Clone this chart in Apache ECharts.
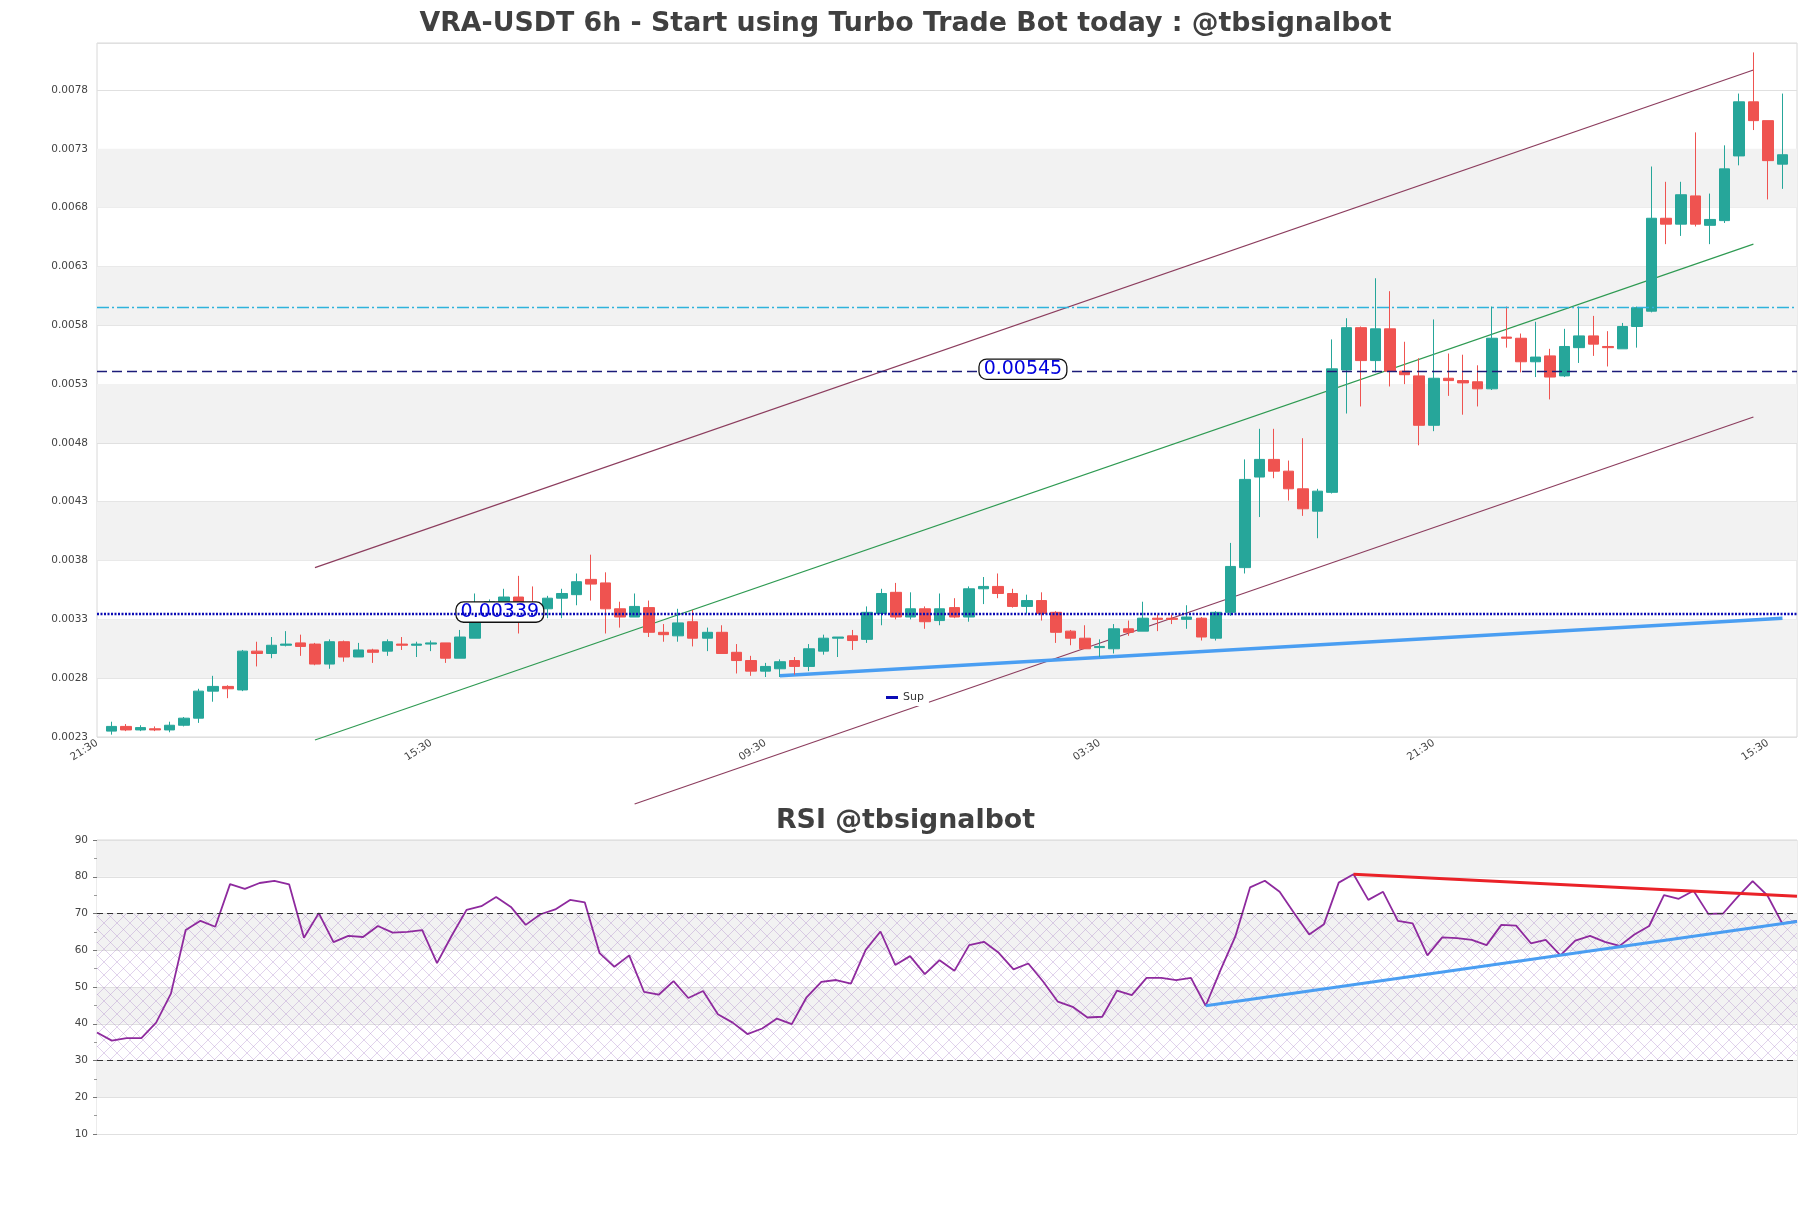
<!DOCTYPE html>
<html>
<head>
<meta charset="utf-8">
<title>VRA-USDT 6h</title>
<script src="https://cdn.jsdelivr.net/npm/echarts@6/dist/echarts.min.js"></script>
<style>
html, body { margin: 0; padding: 0; background: #fff; }
#main { width: 1811px; height: 1208px; }
</style>
</head>
<body>
<div id="main"></div>
<script>
// 6h candles, each row: [open, close, low, high]
var candles = [
  [0.00235, 0.00239, 0.00232, 0.00243], [0.00239, 0.00236, 0.00235, 0.00241], [0.00236, 0.00238, 0.00235, 0.00240],
  [0.00237, 0.00236, 0.00235, 0.00239], [0.00236, 0.00240, 0.00234, 0.00243], [0.00240, 0.00246, 0.00239, 0.00247],
  [0.00246, 0.00269, 0.00242, 0.00271], [0.00269, 0.00273, 0.00260, 0.00282], [0.00273, 0.00271, 0.00263, 0.00274],
  [0.00270, 0.00303, 0.00269, 0.00304], [0.00303, 0.00301, 0.00290, 0.00311], [0.00301, 0.00308, 0.00297, 0.00315],
  [0.00308, 0.00309, 0.00307, 0.00320], [0.00310, 0.00307, 0.00299, 0.00317], [0.00309, 0.00292, 0.00291, 0.00310],
  [0.00292, 0.00311, 0.00288, 0.00313], [0.00311, 0.00298, 0.00294, 0.00312], [0.00298, 0.00304, 0.00298, 0.00310],
  [0.00304, 0.00302, 0.00293, 0.00305], [0.00303, 0.00311, 0.00299, 0.00313], [0.00309, 0.00308, 0.00304, 0.00315],
  [0.00308, 0.00309, 0.00298, 0.00311], [0.00309, 0.00310, 0.00303, 0.00312], [0.00310, 0.00297, 0.00293, 0.00310],
  [0.00297, 0.00315, 0.00297, 0.00321], [0.00314, 0.00329, 0.00314, 0.00352], [0.00329, 0.00345, 0.00327, 0.00347],
  [0.00345, 0.00349, 0.00343, 0.00356], [0.00349, 0.00342, 0.00318, 0.00367], [0.00342, 0.00340, 0.00336, 0.00358],
  [0.00339, 0.00348, 0.00331, 0.00350], [0.00348, 0.00352, 0.00331, 0.00356], [0.00351, 0.00362, 0.00342, 0.00369],
  [0.00364, 0.00360, 0.00346, 0.00385], [0.00361, 0.00339, 0.00318, 0.00370], [0.00339, 0.00332, 0.00323, 0.00345],
  [0.00332, 0.00341, 0.00332, 0.00352], [0.00340, 0.00319, 0.00315, 0.00346], [0.00319, 0.00317, 0.00311, 0.00326],
  [0.00316, 0.00327, 0.00311, 0.00339], [0.00328, 0.00314, 0.00307, 0.00338], [0.00314, 0.00319, 0.00303, 0.00323],
  [0.00319, 0.00301, 0.00301, 0.00325], [0.00302, 0.00295, 0.00284, 0.00309], [0.00295, 0.00286, 0.00282, 0.00299],
  [0.00286, 0.00290, 0.00281, 0.00293], [0.00288, 0.00294, 0.00281, 0.00296], [0.00295, 0.00290, 0.00283, 0.00298],
  [0.00290, 0.00305, 0.00286, 0.00309], [0.00303, 0.00314, 0.00300, 0.00317], [0.00314, 0.00315, 0.00298, 0.00315],
  [0.00316, 0.00312, 0.00304, 0.00321], [0.00313, 0.00336, 0.00310, 0.00341], [0.00335, 0.00352, 0.00325, 0.00356],
  [0.00353, 0.00332, 0.00330, 0.00361], [0.00332, 0.00339, 0.00330, 0.00353], [0.00339, 0.00328, 0.00322, 0.00341],
  [0.00329, 0.00339, 0.00325, 0.00352], [0.00340, 0.00332, 0.00331, 0.00348], [0.00332, 0.00356, 0.00328, 0.00358],
  [0.00356, 0.00358, 0.00343, 0.00366], [0.00358, 0.00352, 0.00348, 0.00369], [0.00352, 0.00341, 0.00340, 0.00356],
  [0.00341, 0.00346, 0.00335, 0.00351], [0.00346, 0.00335, 0.00329, 0.00353], [0.00336, 0.00319, 0.00310, 0.00337],
  [0.00320, 0.00314, 0.00308, 0.00321], [0.00314, 0.00305, 0.00305, 0.00325], [0.00306, 0.00307, 0.00298, 0.00313],
  [0.00305, 0.00322, 0.00301, 0.00326], [0.00322, 0.00319, 0.00316, 0.00329], [0.00320, 0.00331, 0.00320, 0.00345],
  [0.00331, 0.00330, 0.00320, 0.00334], [0.00331, 0.00330, 0.00326, 0.00334], [0.00330, 0.00332, 0.00322, 0.00342],
  [0.00331, 0.00315, 0.00312, 0.00332], [0.00314, 0.00336, 0.00312, 0.00337], [0.00336, 0.00375, 0.00333, 0.00395],
  [0.00374, 0.00449, 0.00369, 0.00466], [0.00451, 0.00466, 0.00417, 0.00492], [0.00466, 0.00456, 0.00450, 0.00492],
  [0.00456, 0.00441, 0.00431, 0.00465], [0.00441, 0.00424, 0.00418, 0.00484], [0.00422, 0.00439, 0.00399, 0.00441],
  [0.00438, 0.00543, 0.00437, 0.00568], [0.00542, 0.00578, 0.00505, 0.00586], [0.00578, 0.00550, 0.00511, 0.00579],
  [0.00550, 0.00577, 0.00540, 0.00620], [0.00577, 0.00541, 0.00528, 0.00609], [0.00541, 0.00538, 0.00530, 0.00566],
  [0.00537, 0.00495, 0.00478, 0.00552], [0.00495, 0.00535, 0.00490, 0.00585], [0.00535, 0.00533, 0.00520, 0.00556],
  [0.00533, 0.00531, 0.00504, 0.00555], [0.00532, 0.00526, 0.00511, 0.00546], [0.00526, 0.00569, 0.00525, 0.00596],
  [0.00570, 0.00569, 0.00561, 0.00596], [0.00569, 0.00549, 0.00540, 0.00573], [0.00549, 0.00553, 0.00536, 0.00583],
  [0.00554, 0.00536, 0.00517, 0.00560], [0.00537, 0.00562, 0.00536, 0.00577], [0.00561, 0.00571, 0.00548, 0.00596],
  [0.00571, 0.00564, 0.00554, 0.00588], [0.00562, 0.00561, 0.00545, 0.00575], [0.00560, 0.00579, 0.00560, 0.00582],
  [0.00579, 0.00595, 0.00561, 0.00596], [0.00592, 0.00671, 0.00591, 0.00715], [0.00671, 0.00666, 0.00649, 0.00702],
  [0.00666, 0.00691, 0.00656, 0.00702], [0.00690, 0.00666, 0.00664, 0.00744], [0.00665, 0.00670, 0.00649, 0.00692],
  [0.00669, 0.00713, 0.00667, 0.00733], [0.00724, 0.00770, 0.00716, 0.00777], [0.00770, 0.00754, 0.00746, 0.00812],
  [0.00754, 0.00720, 0.00687, 0.00754], [0.00717, 0.00725, 0.00696, 0.00777]
];

var rsiValues = [
  37.6, 35.4, 36.1, 36.1, 40.3, 48.2, 65.5, 68.0, 66.4, 78.0,
  76.7, 78.3, 78.9, 77.9, 63.4, 70.1, 62.2, 63.9, 63.6, 66.6,
  64.8, 65.0, 65.5, 56.5, 64.0, 71.0, 72.0, 74.5, 71.8, 66.9,
  69.8, 71.1, 73.7, 73.0, 59.2, 55.5, 58.6, 48.7, 47.9, 51.6,
  47.0, 48.9, 42.6, 40.3, 37.2, 38.7, 41.4, 39.9, 47.2, 51.4,
  51.9, 50.9, 60.1, 65.1, 56.0, 58.4, 53.5, 57.3, 54.4, 61.4,
  62.3, 59.3, 54.8, 56.4, 51.5, 46.0, 44.6, 41.7, 41.9, 49.0,
  47.8, 52.5, 52.5, 51.9, 52.5, 44.9, 54.6, 63.7, 77.1, 78.9,
  75.9, 70.0, 64.3, 67.1, 78.4, 80.7, 73.7, 75.9, 68.0, 67.3,
  58.6, 63.5, 63.3, 62.8, 61.4, 66.9, 66.7, 61.9, 62.8, 58.6,
  62.6, 63.9, 62.3, 61.2, 64.3, 66.6, 75.0, 74.0, 76.2, 69.9,
  70.0, 74.6, 78.8, 74.9, 67.3, 68.0
];

var xTickLabels = ['21:30', '15:30', '09:30', '03:30', '21:30', '15:30'];
var xTickStep = 23;

// price levels and their tags
var supLevel = 0.003345;
var pivotLevel = 0.00541;
var resistLevel = 0.00595;
var levelTags = ['0.00339', '0.00545'];

// price channel / trend lines: [candle slot, price]
var upperChannel = [[15, 0.00374], [114, 0.00797]];
var midChannel = [[15, 0.002274], [114, 0.00649]];
var lowerChannel = [[37, 0.00173], [114, 0.00502]];
var supportTrend = [[47, 0.00282], [116, 0.00331]];

// RSI trend lines: [rsi index, value]
var rsiDownTrend = [[85, 80.7], [115, 74.7]];
var rsiUpTrend = [[75, 44.9], [115, 67.8]];

var priceBands = [[0.0028, 0.0033], [0.0038, 0.0043], [0.0048, 0.0053], [0.0058, 0.0063], [0.0068, 0.0073]];

var FONT = 'DejaVu Sans';
var chart = echarts.init(document.getElementById('main'));

var candleCats = [];
for (var i = 0; i < candles.length + 2; i++) candleCats.push(String(i));
var candleData = ['-'].concat(candles, ['-']);
var rsiCats = [];
for (var j = 0; j < rsiValues.length; j++) rsiCats.push(String(j));

// cross hatch for the rsi 30-70 zone
var hatch = document.createElement('canvas');
hatch.width = 13; hatch.height = 13;
var g = hatch.getContext('2d');
g.strokeStyle = 'rgba(170,130,200,0.5)';
g.lineWidth = 0.7;
g.beginPath();
g.moveTo(0, 0); g.lineTo(13, 13);
g.moveTo(13, 0); g.lineTo(0, 13);
g.stroke();

function trend(name, data, color, width, axisIdx) {
  return {
    name: name, type: 'line', data: data,
    xAxisIndex: axisIdx, yAxisIndex: axisIdx,
    symbol: 'none', clip: false, silent: true,
    lineStyle: { color: color, width: width },
    z: 3
  };
}

var option = {
  animation: false,
  backgroundColor: '#fff',
  title: [
    { text: 'VRA-USDT 6h - Start using Turbo Trade Bot today : @tbsignalbot', left: 'center', top: 9, padding: 0,
      textStyle: { fontFamily: FONT, fontSize: 26.8, fontWeight: 'bold', color: '#404040', lineHeight: 30 } },
    { text: 'RSI @tbsignalbot', left: 'center', top: 806, padding: 0,
      textStyle: { fontFamily: FONT, fontSize: 26.8, fontWeight: 'bold', color: '#404040', lineHeight: 30 } }
  ],
  legend: {
    data: [{ name: 'Sup', icon: 'rect' }],
    left: 881, top: 689,
    itemWidth: 12, itemHeight: 3, padding: [3, 5],
    backgroundColor: '#fff',
    textStyle: { fontFamily: FONT, fontSize: 11, color: '#333' }
  },
  grid: [
    { left: 97, right: 14, top: 43, height: 694, show: true, borderColor: '#d8d8d8', borderWidth: 1, backgroundColor: '#fff' },
    { left: 97, right: 14, top: 840, height: 294, show: true, borderColor: '#d8d8d8', borderWidth: 1, backgroundColor: '#fff' }
  ],
  xAxis: [
    { type: 'category', gridIndex: 0, data: candleCats, boundaryGap: false,
      axisLine: { show: false }, axisTick: { show: false }, splitLine: { show: false },
      axisLabel: { interval: xTickStep - 1, rotate: 33, margin: 5, fontFamily: FONT, fontSize: 10.5, color: '#444',
        formatter: function (v, idx) { return xTickLabels[idx / xTickStep] || ''; } } },
    { type: 'category', gridIndex: 1, data: rsiCats, boundaryGap: false,
      axisLine: { show: false }, axisTick: { show: false }, axisLabel: { show: false }, splitLine: { show: false } }
  ],
  yAxis: [
    { type: 'value', gridIndex: 0, min: 0.0023, max: 0.0082, interval: 0.0005,
      axisLine: { show: false }, axisTick: { show: false },
      splitLine: { lineStyle: { color: '#e0e0e0' } },
      axisLabel: { showMaxLabel: false, margin: 9, fontFamily: FONT, fontSize: 10.5, color: '#444',
        formatter: function (v) { return v.toFixed(4); } } },
    { type: 'value', gridIndex: 1, min: 10, max: 90, interval: 10,
      axisLine: { show: false },
      axisTick: { show: true, length: 4, lineStyle: { color: '#777' } },
      minorTick: { show: true, splitNumber: 2, length: 3, lineStyle: { color: '#999' } },
      splitLine: { lineStyle: { color: '#e0e0e0' } },
      splitArea: { show: true, areaStyle: { color: ['#ffffff', '#f2f2f2'] } },
      axisLabel: { margin: 9, fontFamily: FONT, fontSize: 10.5, color: '#444' } }
  ],
  series: [
    {
      name: 'VRA', type: 'candlestick', data: candleData,
      xAxisIndex: 0, yAxisIndex: 0, barWidth: 11, z: 4,
      itemStyle: { color: '#26a69a', color0: '#ef5350', borderColor: '#26a69a', borderColor0: '#ef5350', borderWidth: 1 },
      markArea: {
        silent: true, itemStyle: { color: '#f2f2f2' },
        data: priceBands.map(function (b) { return [{ yAxis: b[0] }, { yAxis: b[1] }]; })
      }
    },
    {
      name: 'Sup', type: 'line', xAxisIndex: 0, yAxisIndex: 0,
      data: [[0, supLevel], [candleCats.length - 1, supLevel]],
      symbol: 'none', silent: true, z: 5,
      itemStyle: { color: '#0b0bb5' },
      lineStyle: { color: '#0b0bb5', width: 2.5, type: [2, 1.5] },
      markLine: {
        silent: true, symbol: ['none', 'none'], label: { show: false },
        data: [
          [{ coord: [0, resistLevel] }, { coord: [candleCats.length - 1, resistLevel],
            lineStyle: { color: '#2fb3dc', width: 1.3, type: [12, 3, 2, 3] } }],
          [{ coord: [0, pivotLevel] }, { coord: [candleCats.length - 1, pivotLevel],
            lineStyle: { color: '#1c1c7a', width: 1.3, type: [10, 5] } }]
        ]
      },
      markPoint: {
        symbol: 'rect', symbolSize: 1, itemStyle: { color: 'rgba(0,0,0,0)' }, silent: true,
        label: { show: true, position: 'inside', formatter: '{b}', offset: [-4, -2],
          fontFamily: FONT, fontSize: 19, lineHeight: 19, color: '#0000dd',
          backgroundColor: '#fff', borderColor: '#111', borderWidth: 1.3, borderRadius: 7, padding: [0, 4, 0, 4] },
        data: [
          { name: levelTags[0], coord: [28, supLevel] },
          { name: levelTags[1], coord: [64, pivotLevel] }
        ]
      }
    },
    trend('upper', upperChannel, '#8c3d5e', 1.2, 0),
    trend('mid', midChannel, '#2e9a52', 1.1, 0),
    trend('lower', lowerChannel, '#8c3d5e', 1.2, 0),
    trend('support', supportTrend, '#4a9ef2', 3.5, 0),
    {
      name: 'RSI', type: 'line', data: rsiValues,
      xAxisIndex: 1, yAxisIndex: 1, symbol: 'none', silent: true, z: 3,
      lineStyle: { color: '#8e2a9e', width: 1.8 },
      markArea: {
        silent: true, itemStyle: { color: { image: hatch, repeat: 'repeat' } },
        data: [[{ yAxis: 30 }, { yAxis: 70 }]]
      },
      markLine: {
        silent: true, symbol: ['none', 'none'], label: { show: false },
        lineStyle: { color: '#333', width: 1.2, type: [6, 4] },
        data: [{ yAxis: 70 }, { yAxis: 30 }]
      }
    },
    trend('rsiDown', rsiDownTrend, '#ea2228', 3, 1),
    trend('rsiUp', rsiUpTrend, '#4a9ef2', 3, 1)
  ]
};

chart.setOption(option);
</script>
</body>
</html>
